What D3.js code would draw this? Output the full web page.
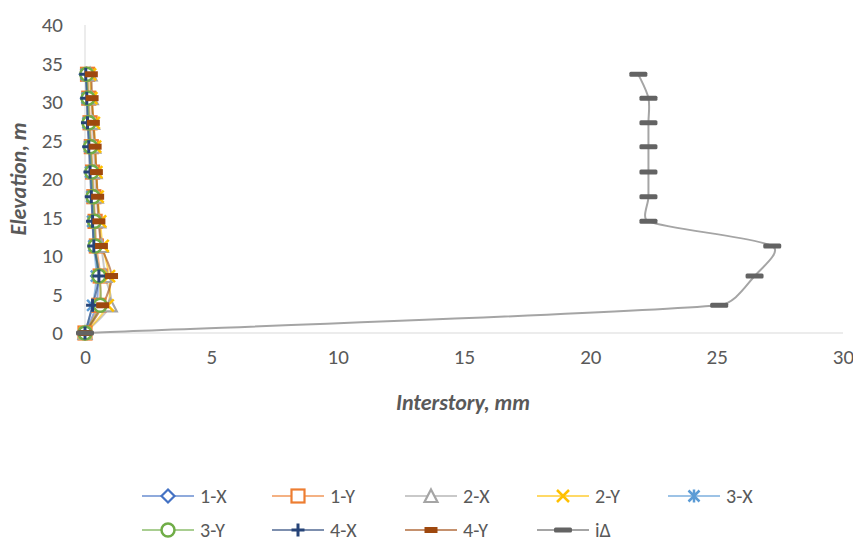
<!DOCTYPE html>
<html>
<head>
<meta charset="utf-8">
<script src="https://cdn.jsdelivr.net/npm/d3@7"></script>
<style>
  body { margin: 0; background: #fff; }
  text { font-family: Carlito, Calibri, Lato, sans-serif; fill: #595959; }
</style>
</head>
<body>
<div id="chart"></div>
<script>
const elevation = [0, 3.6, 7.4, 11.3, 14.5, 17.7, 20.9, 24.2, 27.3, 30.5, 33.6]

const s1X = [0, 0.45, 0.5, 0.4, 0.35, 0.3, 0.25, 0.2, 0.15, 0.1, 0.05]
const s1Y = [0, 0.55, 0.6, 0.45, 0.4, 0.35, 0.3, 0.25, 0.2, 0.15, 0.1]
const s2X = [0, 1.0, 0.8, 0.65, 0.55, 0.45, 0.4, 0.35, 0.3, 0.25, 0.2]
const s2Y = [0, 0.9, 0.95, 0.7, 0.6, 0.5, 0.45, 0.4, 0.35, 0.25, 0.2]
const s3X = [0, 0.3, 0.45, 0.35, 0.3, 0.27, 0.22, 0.18, 0.12, 0.08, 0.04]
const s3Y = [0, 0.6, 0.55, 0.4, 0.38, 0.32, 0.27, 0.22, 0.16, 0.12, 0.07]
const s4X = [0, 0.3, 0.55, 0.35, 0.3, 0.25, 0.2, 0.15, 0.1, 0.07, 0.03]
const s4Y = [0, 0.7, 1.05, 0.65, 0.55, 0.5, 0.45, 0.4, 0.33, 0.28, 0.25]
const iDelta = [0, 25.1, 26.5, 27.2, 22.3, 22.3, 22.3, 22.3, 22.3, 22.3, 21.9]

const xTicks = [0, 5, 10, 15, 20, 25, 30]
const yTicks = [0, 5, 10, 15, 20, 25, 30, 35, 40]

const series = [
  { name: '1-X', values: s1X, color: '#4472C4', marker: 'diamond' },
  { name: '1-Y', values: s1Y, color: '#ED7D31', marker: 'square' },
  { name: '2-X', values: s2X, color: '#A5A5A5', marker: 'triangle' },
  { name: '2-Y', values: s2Y, color: '#FFC000', marker: 'x' },
  { name: '3-X', values: s3X, color: '#5B9BD5', marker: 'star' },
  { name: '3-Y', values: s3Y, color: '#70AD47', marker: 'circle' },
  { name: '4-X', values: s4X, color: '#264478', marker: 'plus' },
  { name: '4-Y', values: s4Y, color: '#9E480E', marker: 'dash' },
  { name: 'iΔ', values: iDelta, color: '#636363', marker: 'bar' }
]

const width = 853
const height = 543
const margin = { top: 25, right: 10, bottom: 210, left: 85 }

const svg = d3.select('#chart').append('svg')
  .attr('width', width)
  .attr('height', height)

const x = d3.scaleLinear().domain([0, 30]).range([margin.left, 843])
const y = d3.scaleLinear().domain([0, 40]).range([333, margin.top])

// axis lines
svg.append('line')
  .attr('x1', x(0)).attr('x2', x(0))
  .attr('y1', y(40)).attr('y2', y(0))
  .attr('stroke', '#d9d9d9')
svg.append('line')
  .attr('x1', x(0)).attr('x2', x(30))
  .attr('y1', y(0)).attr('y2', y(0))
  .attr('stroke', '#d9d9d9')

const xAxis = svg.append('g')
  .attr('transform', `translate(0,${y(0)})`)
  .call(d3.axisBottom(x).tickValues(xTicks).tickSize(0).tickPadding(16))
xAxis.select('.domain').remove()
xAxis.selectAll('text').style('font-size', '21px').style('fill', '#595959')

const yAxis = svg.append('g')
  .attr('transform', `translate(${x(0)},0)`)
  .call(d3.axisLeft(y).tickValues(yTicks).tickSize(0).tickPadding(22))
yAxis.select('.domain').remove()
yAxis.selectAll('text').style('font-size', '21px').style('fill', '#595959')

svg.append('text')
  .attr('x', 463).attr('y', 410)
  .attr('text-anchor', 'middle')
  .style('font-size', '22px').style('font-weight', 'bold').style('font-style', 'italic')
  .text('Interstory, mm')

svg.append('text')
  .attr('transform', `translate(26,${(y(0) + y(40)) / 2}) rotate(-90)`)
  .attr('text-anchor', 'middle')
  .style('font-size', '22px').style('font-weight', 'bold').style('font-style', 'italic')
  .text('Elevation, m')

function drawMarker (g, type, color) {
  if (type === 'diamond') {
    g.append('path').attr('d', 'M0,-6.5L6.5,0L0,6.5L-6.5,0Z')
      .attr('fill', '#fff').attr('stroke', color).attr('stroke-width', 2.2)
  } else if (type === 'square') {
    g.append('rect').attr('x', -6.5).attr('y', -6.5).attr('width', 13).attr('height', 13)
      .attr('fill', '#fff').attr('stroke', color).attr('stroke-width', 2.2)
  } else if (type === 'triangle') {
    g.append('path').attr('d', 'M0,-6.5L6.5,6L-6.5,6Z')
      .attr('fill', '#fff').attr('stroke', color).attr('stroke-width', 2.2)
  } else if (type === 'x') {
    g.append('path').attr('d', 'M-6,-6L6,6M6,-6L-6,6')
      .attr('stroke', color).attr('stroke-width', 2.5)
  } else if (type === 'star') {
    g.append('path').attr('d', 'M-5.5,-5.5L5.5,5.5M5.5,-5.5L-5.5,5.5M0,-6.5L0,6.5')
      .attr('stroke', color).attr('stroke-width', 2.5)
  } else if (type === 'circle') {
    g.append('circle').attr('r', 6.5)
      .attr('fill', '#fff').attr('stroke', color).attr('stroke-width', 2.5)
  } else if (type === 'plus') {
    g.append('path').attr('d', 'M-6.5,0L6.5,0M0,-6.5L0,6.5')
      .attr('stroke', color).attr('stroke-width', 3)
  } else if (type === 'dash') {
    g.append('rect').attr('x', -6.5).attr('y', -3).attr('width', 13).attr('height', 6)
      .attr('fill', color)
  } else if (type === 'bar') {
    g.append('rect').attr('x', -9).attr('y', -2.5).attr('width', 18).attr('height', 5)
      .attr('rx', 1.5).attr('fill', color)
  }
}

// smoothed line, like a spreadsheet: tangent along neighbours, handles capped by segment length
function smoothPath (pts) {
  const p = d3.path()
  const n = pts.length
  const dist = (a, b) => Math.hypot(b[0] - a[0], b[1] - a[1])
  const tan = pts.map((pt, i) => {
    const a = pts[Math.max(0, i - 1)]
    const b = pts[Math.min(n - 1, i + 1)]
    const tx = b[0] - a[0]
    const ty = b[1] - a[1]
    const len = Math.hypot(tx, ty) || 1
    return [tx / len, ty / len, len / 6]
  })
  p.moveTo(pts[0][0], pts[0][1])
  for (let i = 0; i < n - 1; i++) {
    const a = pts[i]
    const b = pts[i + 1]
    const d = dist(a, b)
    const ha = Math.min(tan[i][2], d / 3)
    const hb = Math.min(tan[i + 1][2], d / 3)
    p.bezierCurveTo(
      a[0] + tan[i][0] * ha, a[1] + tan[i][1] * ha,
      b[0] - tan[i + 1][0] * hb, b[1] - tan[i + 1][1] * hb,
      b[0], b[1])
  }
  return p.toString()
}

const lineColor = s => s.name === 'iΔ' ? '#a5a5a5' : s.color

series.forEach(s => {
  const pts = s.values.map((v, i) => [x(v), y(elevation[i])])
  svg.append('path')
    .attr('d', smoothPath(pts))
    .attr('fill', 'none')
    .attr('stroke', lineColor(s))
    .attr('stroke-width', 2)
    .attr('stroke-opacity', s.name === 'iΔ' ? 1 : 0.6)
})

series.forEach(s => {
  s.values.forEach((v, i) => {
    const g = svg.append('g').attr('transform', `translate(${x(v)},${y(elevation[i])})`)
    drawMarker(g, s.marker, s.color)
  })
})

// legend
const legendCols = [142, 272, 405, 537, 668]
const legendRows = [496, 530]
series.forEach((s, i) => {
  const lx = legendCols[i % 5]
  const ly = legendRows[Math.floor(i / 5)]
  const g = svg.append('g').attr('transform', `translate(${lx},${ly})`)
  g.append('line').attr('x1', 0).attr('x2', 52).attr('y1', 0).attr('y2', 0)
    .attr('stroke', lineColor(s)).attr('stroke-width', 2)
    .attr('stroke-opacity', s.name === 'iΔ' ? 1 : 0.6)
  drawMarker(g.append('g').attr('transform', 'translate(26,0)'), s.marker, s.color)
  g.append('text').attr('x', 58).attr('y', 0).attr('dy', '0.35em')
    .style('font-size', '20px')
    .text(s.name)
})
</script>
</body>
</html>
